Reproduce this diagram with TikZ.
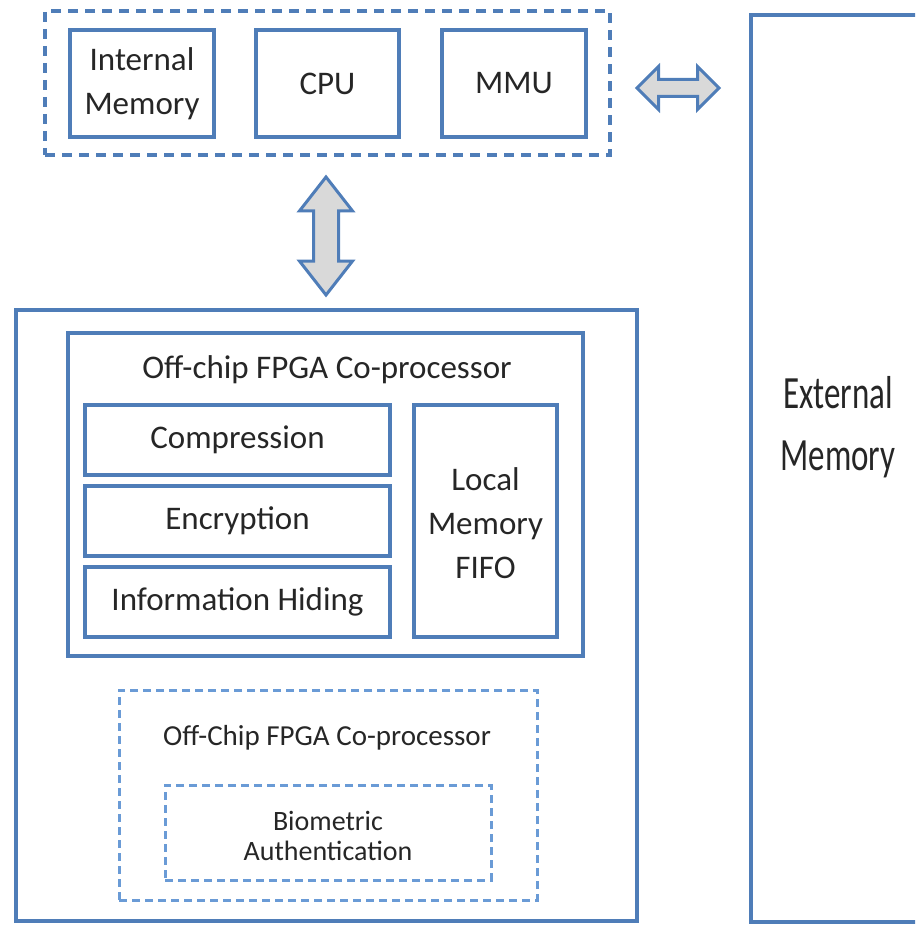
\documentclass[tikz,border=0pt]{standalone}
\usepackage{fontspec}
\setmainfont{Carlito}
\usetikzlibrary{shapes.arrows}
\definecolor{boxblue}{HTML}{4F7DB8}
\definecolor{lightblue}{HTML}{6A9BD6}
\definecolor{arrowgrey}{HTML}{D9D9D9}
\definecolor{inkgrey}{HTML}{262626}
\begin{document}
\begin{tikzpicture}[x=1pt,y=-1pt,
  every node/.style={text=inkgrey},
  txt/.style={font=\fontsize{33}{44}\selectfont, align=center},
  solidbox/.style={draw=boxblue, line width=3.5pt, rectangle, inner sep=0pt, txt},
  outerdash/.style={draw=boxblue, line width=3.5pt, dash pattern=on 10pt off 7pt, rectangle, inner sep=0pt},
  lightdash/.style={draw=lightblue, line width=3pt, dash pattern=on 8pt off 5pt, rectangle, inner sep=0pt},
  busarrow/.style={double arrow, draw=boxblue, fill=arrowgrey, line width=3pt,
    inner xsep=0pt, double arrow head indent=0pt}
]
\useasboundingbox (0,0) rectangle (915,925);
\clip (0,0) rectangle (915,925);

% processor chip with its three units
\node[outerdash, minimum width=565pt, minimum height=144pt] (chip) at (327.5,83) {};
\node[solidbox, minimum width=144pt, minimum height=107pt] (imem) at (142,83.5) {Internal\\Memory};
\node[solidbox, minimum width=143pt, minimum height=107pt] (cpu) at (327.5,83.5) {CPU};
\node[solidbox, minimum width=144pt, minimum height=107pt] (mmu) at (514,83.5) {MMU};

% external memory, running off the right edge
\node[draw=boxblue, line width=3.5pt, rectangle, minimum width=260pt, minimum height=907pt] (ext) at (881,468.5) {};
\node[txt, yscale=1.4, transform shape] (extlabel) at (838,427) {External\\Memory};

% co-processor board
\node[draw=boxblue, line width=3.5pt, rectangle, minimum width=621pt, minimum height=611pt] (board) at (326.5,615.5) {};
\node[solidbox, minimum width=515pt, minimum height=323pt] (fpga) at (325.5,494.5) {};
\node[txt] (fpgatitle) at (327,370) {Off-chip FPGA Co-processor};
\node[solidbox, minimum width=305pt, minimum height=70pt] (comp) at (237.5,440) {Compression};
\node[solidbox, minimum width=305pt, minimum height=70pt] (enc) at (237.5,521) {Encryption};
\node[solidbox, minimum width=305pt, minimum height=70pt] (hide) at (237.5,602) {Information Hiding};
\node[solidbox, minimum width=143pt, minimum height=232pt] (fifo) at (485.5,521) {};
\node[txt] (fifolabel) at (485.5,523) {Local\\Memory\\FIFO};

% optional biometric co-processor
\node[lightdash, minimum width=418pt, minimum height=210pt] (bio) at (328,795) {};
\node[font=\fontsize{29}{30}\selectfont] (biotitle) at (327,738) {Off-Chip FPGA Co-processor};
\node[lightdash, minimum width=326pt, minimum height=95pt] (auth) at (328,832.5) {};
\node[font=\fontsize{28}{30}\selectfont, align=center] (authlabel) at (328,836) {Biometric\\Authentication};

% bus connections
\node[busarrow, minimum height=82pt, inner ysep=7pt, double arrow head extend=13pt,
      double arrow tip angle=90] (hbus) at (678,88) {};
\node[busarrow, minimum height=118pt, inner ysep=11pt, double arrow head extend=14pt,
      double arrow tip angle=76, rotate=90] (vbus) at (326,236) {};
\end{tikzpicture}
\end{document}
